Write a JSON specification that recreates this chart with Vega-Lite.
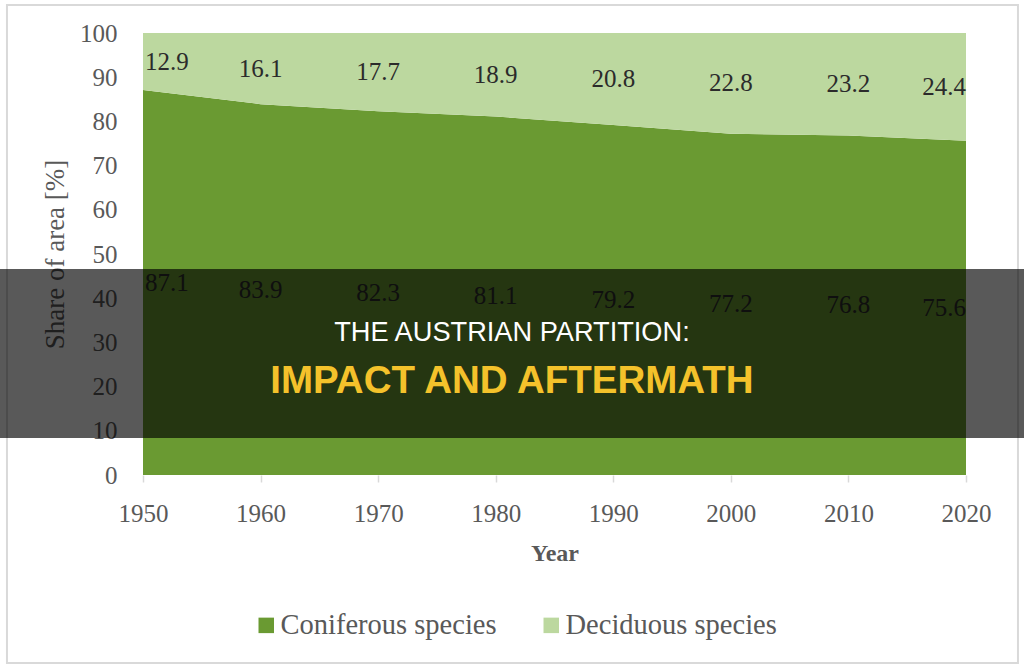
{
  "$schema": "https://vega.github.io/schema/vega-lite/v6.json",
  "width": 823,
  "height": 442,
  "autosize": "none",
  "padding": {"left": 143, "top": 33, "right": 58, "bottom": 197},
  "background": "white",
  "config": {"view": {"stroke": null}, "font": "Liberation Serif"},
  "data": {
    "values": [
      {"Year": 1950, "Species": "Coniferous species", "Share": 87.1},
      {"Year": 1960, "Species": "Coniferous species", "Share": 83.9},
      {"Year": 1970, "Species": "Coniferous species", "Share": 82.3},
      {"Year": 1980, "Species": "Coniferous species", "Share": 81.1},
      {"Year": 1990, "Species": "Coniferous species", "Share": 79.2},
      {"Year": 2000, "Species": "Coniferous species", "Share": 77.2},
      {"Year": 2010, "Species": "Coniferous species", "Share": 76.8},
      {"Year": 2020, "Species": "Coniferous species", "Share": 75.6},
      {"Year": 1950, "Species": "Deciduous species", "Share": 12.9},
      {"Year": 1960, "Species": "Deciduous species", "Share": 16.1},
      {"Year": 1970, "Species": "Deciduous species", "Share": 17.7},
      {"Year": 1980, "Species": "Deciduous species", "Share": 18.9},
      {"Year": 1990, "Species": "Deciduous species", "Share": 20.8},
      {"Year": 2000, "Species": "Deciduous species", "Share": 22.8},
      {"Year": 2010, "Species": "Deciduous species", "Share": 23.2},
      {"Year": 2020, "Species": "Deciduous species", "Share": 24.4}
    ]
  },
  "layer": [
    {
      "mark": {"type": "area", "opacity": 1},
      "encoding": {
        "x": {
          "field": "Year", "type": "quantitative", "title": "Year",
          "scale": {"domain": [1950, 2020], "nice": false, "zero": false},
          "axis": {
            "values": [1950, 1960, 1970, 1980, 1990, 2000, 2010, 2020],
            "format": "d", "grid": false, "domain": false,
            "ticks": true, "tickColor": "#d9d9d9", "tickSize": 7, "tickWidth": 1.5,
            "labelFont": "Liberation Serif", "labelFontSize": 25, "labelColor": "#595959",
            "labelPadding": 19, "labelFlush": false, "labelOverlap": false,
            "titleFont": "Liberation Serif", "titleFontSize": 24, "titleFontWeight": "bold",
            "titleColor": "#595959", "titlePadding": 15
          }
        },
        "y": {
          "field": "Share", "type": "quantitative", "stack": "zero", "title": "Share of area [%]",
          "scale": {"domain": [0, 100], "nice": false},
          "axis": {
            "values": [0, 10, 20, 30, 40, 50, 60, 70, 80, 90, 100],
            "grid": false, "domain": false, "ticks": false,
            "labelFont": "Liberation Serif", "labelFontSize": 25, "labelColor": "#595959",
            "labelPadding": 26,
            "titleFont": "Liberation Serif", "titleFontSize": 27, "titleFontWeight": "normal",
            "titleColor": "#595959", "titlePadding": 10
          }
        },
        "order": {"field": "Species", "sort": "ascending"},
        "color": {
          "field": "Species", "type": "nominal",
          "scale": {"domain": ["Coniferous species", "Deciduous species"], "range": ["#6a9a32", "#bcd89f"]},
          "legend": {
            "title": null, "orient": "none", "legendX": 109, "legendY": 578,
            "direction": "horizontal", "symbolType": "square", "symbolSize": 240,
            "symbolStrokeWidth": 0, "symbolOpacity": 1,
            "labelFont": "Liberation Serif", "labelFontSize": 28.5, "labelColor": "#595959",
            "labelOffset": 0, "columnPadding": 40, "padding": 0, "labelLimit": 400
          }
        }
      }
    },
    {
      "mark": {
        "type": "text", "font": "Liberation Serif", "fontSize": 25, "color": "#2b2b2b",
        "baseline": "middle",
        "align": {"expr": "datum.Year == 1950 ? 'left' : (datum.Year == 2020 ? 'right' : 'center')"},
        "dx": {"expr": "datum.Year == 1950 ? 2 : 0"}
      },
      "encoding": {
        "x": {"field": "Year", "type": "quantitative", "title": "Year", "scale": {"domain": [1950, 2020], "nice": false, "zero": false}},
        "y": {"field": "Share", "type": "quantitative", "stack": "zero", "bandPosition": 0.5, "title": "Share of area [%]", "scale": {"domain": [0, 100], "nice": false}},
        "order": {"field": "Species", "sort": "ascending"},
        "detail": {"field": "Species", "type": "nominal"},
        "text": {"field": "Share", "type": "quantitative", "format": ".1f"}
      }
    },
    {
      "data": {"values": [{}]},
      "mark": {"type": "rect", "filled": false, "stroke": "#d9d9d9", "strokeWidth": 2},
      "encoding": {
        "x": {"datum": 1938.43, "type": "quantitative", "title": "Year", "scale": {"domain": [1950, 2020], "nice": false, "zero": false}},
        "x2": {"datum": 2024.42},
        "y": {"datum": 106.33, "type": "quantitative", "title": "Share of area [%]", "scale": {"domain": [0, 100], "nice": false}},
        "y2": {"datum": -42.53}
      }
    },
    {
      "data": {"values": [{}]},
      "mark": {"type": "rect", "color": "black", "opacity": 0.65},
      "encoding": {
        "x": {"datum": 1937.8, "type": "quantitative", "title": "Year", "scale": {"domain": [1950, 2020], "nice": false, "zero": false}},
        "x2": {"datum": 2025.2},
        "y": {"datum": 46.6, "type": "quantitative", "title": "Share of area [%]", "scale": {"domain": [0, 100], "nice": false}},
        "y2": {"datum": 8.37}
      }
    },
    {
      "data": {"values": [{}]},
      "mark": {"type": "text", "font": "Liberation Sans", "fontSize": 27.2, "color": "white", "align": "center", "baseline": "alphabetic"},
      "encoding": {
        "x": {"datum": 1981.38, "type": "quantitative", "title": "Year", "scale": {"domain": [1950, 2020], "nice": false, "zero": false}},
        "y": {"datum": 30.32, "type": "quantitative", "title": "Share of area [%]", "scale": {"domain": [0, 100], "nice": false}},
        "text": {"value": "THE AUSTRIAN PARTITION:"}
      }
    },
    {
      "data": {"values": [{}]},
      "mark": {"type": "text", "font": "Liberation Sans", "fontSize": 38.5, "fontWeight": "bold", "color": "#f4c22b", "align": "center", "baseline": "alphabetic"},
      "encoding": {
        "x": {"datum": 1981.38, "type": "quantitative", "title": "Year", "scale": {"domain": [1950, 2020], "nice": false, "zero": false}},
        "y": {"datum": 18.55, "type": "quantitative", "title": "Share of area [%]", "scale": {"domain": [0, 100], "nice": false}},
        "text": {"value": "IMPACT AND AFTERMATH"}
      }
    }
  ]
}
